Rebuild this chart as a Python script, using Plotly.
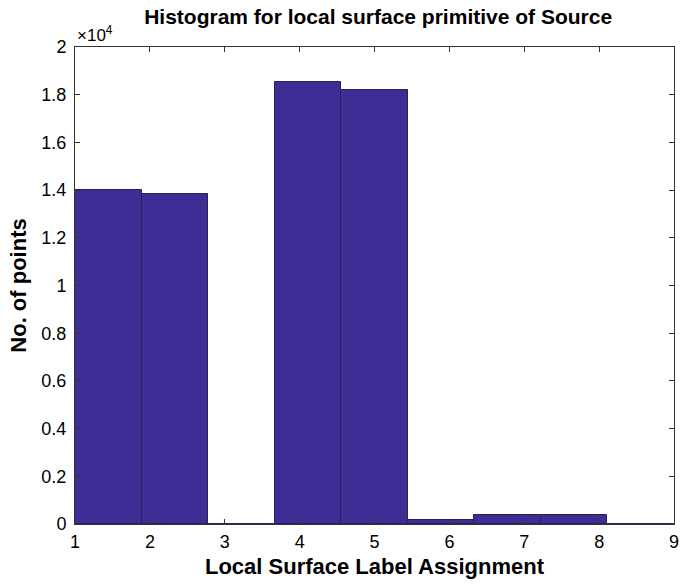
import plotly.graph_objects as go

# Histogram bins (label assignment 1..9 split into 9 equal bins) and counts
bin_edges = [1 + i * 8 / 9 for i in range(10)]
counts = [14020, 13850, 0, 18520, 18200, 180, 380, 370, 0]

y_tick_vals = [0, 2000, 4000, 6000, 8000, 10000, 12000, 14000, 16000, 18000, 20000]
y_tick_text = ["0", "0.2", "0.4", "0.6", "0.8", "1", "1.2", "1.4", "1.6", "1.8", "2"]
x_tick_vals = [1, 2, 3, 4, 5, 6, 7, 8, 9]

centers = [(a + b) / 2 for a, b in zip(bin_edges[:-1], bin_edges[1:])]
widths = [b - a for a, b in zip(bin_edges[:-1], bin_edges[1:])]

FONT = "Liberation Sans, Arial, sans-serif"

fig = go.Figure(
    go.Bar(
        x=centers,
        y=counts,
        width=widths,
        marker=dict(color="#3d2e96", line=dict(color="#2a1f5c", width=1)),
        hoverinfo="x+y",
    )
)

fig.update_layout(
    width=685,
    height=586,
    margin=dict(l=75, r=6, t=47, b=62),
    paper_bgcolor="white",
    plot_bgcolor="white",
    showlegend=False,
    bargap=0,
    title=dict(
        text="<b>Histogram for local surface primitive of Source</b>",
        x=0.552,
        xanchor="center",
        y=0.971,
        yanchor="middle",
        font=dict(family=FONT, size=21, color="black"),
    ),
    font=dict(family=FONT, color="black"),
)

fig.update_xaxes(
    range=[1, 9],
    tickvals=x_tick_vals,
    ticks="inside",
    ticklen=5,
    tickcolor="#333",
    ticklabelstandoff=1,
    showline=True,
    linecolor="#333",
    linewidth=1,
    mirror="ticks",
    showgrid=False,
    zeroline=False,
    tickfont=dict(family=FONT, size=18, color="black"),
    title=dict(
        text="<b>Local Surface Label Assignment</b>",
        font=dict(family=FONT, size=22, color="black"),
        standoff=8,
    ),
)

fig.update_yaxes(
    range=[0, 20000],
    tickvals=y_tick_vals,
    ticktext=y_tick_text,
    ticks="inside",
    ticklen=5,
    tickcolor="#333",
    ticklabelstandoff=4,
    showline=True,
    linecolor="#333",
    linewidth=1,
    mirror="ticks",
    showgrid=False,
    zeroline=False,
    tickfont=dict(family=FONT, size=18, color="black"),
    title=dict(
        text="<b>No. of points</b>",
        font=dict(family=FONT, size=22, color="black"),
        standoff=8,
    ),
)

# Axis exponent label
fig.add_annotation(
    xref="paper", yref="paper",
    x=0.0, y=1.0,
    xanchor="left", yanchor="bottom",
    yshift=0, xshift=0,
    text="×10<sup>4</sup>",
    showarrow=False,
    font=dict(family=FONT, size=17, color="black"),
)

fig.write_html("out.html")
